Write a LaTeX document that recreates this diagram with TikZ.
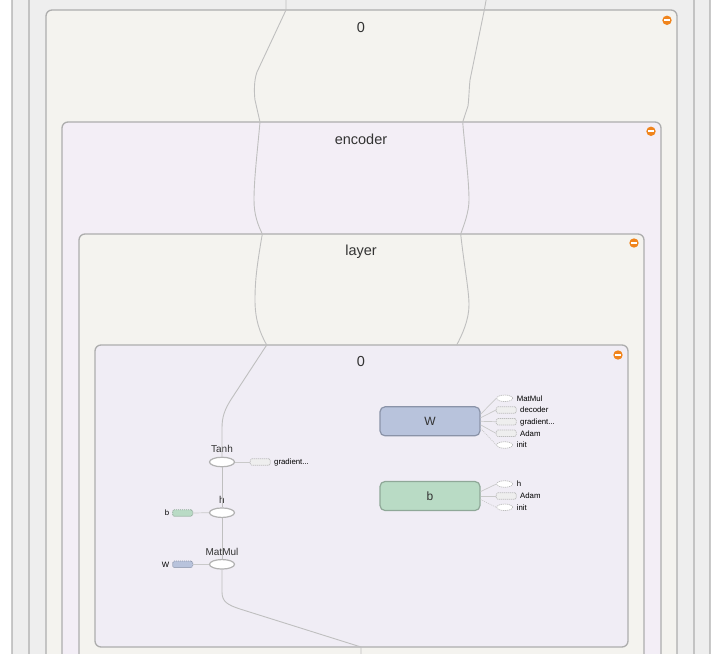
\documentclass[tikz,border=0pt]{standalone}
\usepackage{fontspec}
\setmainfont{Liberation Sans}
\usetikzlibrary{shapes.geometric}
\definecolor{grpgray}{HTML}{EEEEEE}
\definecolor{grpcream}{HTML}{F4F3EF}
\definecolor{grppink}{HTML}{F3EEF6}
\definecolor{grplav}{HTML}{F0EDF5}
\definecolor{grpline}{HTML}{ADADAD}
\definecolor{edgegray}{HTML}{BFBFBF}
\definecolor{sidegray}{HTML}{C9C9C9}
\definecolor{auxline}{HTML}{BDBDBD}
\definecolor{opline}{HTML}{B2B2B2}
\definecolor{wfill}{HTML}{B8C3DC}
\definecolor{wline}{HTML}{8A93A8}
\definecolor{bfill}{HTML}{B9DBC5}
\definecolor{bline}{HTML}{8FA898}
\definecolor{iconorange}{HTML}{F0841C}
\definecolor{titletext}{HTML}{333333}
\begin{document}
\begin{tikzpicture}[x=1pt,y=-1pt,
  grp/.style={draw=grpline,line width=1.3pt,rounded corners=6pt},
  grptitle/.style={anchor=base,text=titletext,font=\fontsize{14.5}{17}\selectfont},
  opnode/.style={ellipse,draw=opline,fill=white,line width=1.2pt,minimum width=25pt,minimum height=9.5pt,inner sep=0pt},
  oplabel/.style={anchor=base,text=titletext,font=\fontsize{10}{12}\selectfont},
  varnode/.style={rounded corners=5pt,line width=1.2pt,minimum width=100pt,minimum height=29pt,inner sep=0pt,text=titletext,font=\fontsize{12}{14}\selectfont},
  auxrect/.style={draw=auxline,fill=grpgray,dash pattern=on 1.2pt off 0.8pt,line width=0.7pt,rounded corners=1.5pt,minimum width=20pt,minimum height=6.5pt,inner sep=0pt},
  auxoval/.style={ellipse,draw=auxline,fill=white,dash pattern=on 1.2pt off 0.8pt,line width=0.7pt,minimum width=16pt,minimum height=6.5pt,inner sep=0pt},
  auxlabel/.style={anchor=west,inner sep=0pt,text height=5.6pt,text depth=0pt,font=\fontsize{7.8}{9}\selectfont},
  flow/.style={draw=edgegray,line width=0.9pt},
  sideflow/.style={draw=sidegray,line width=0.7pt},
]
\useasboundingbox (0,0) rectangle (724,654);
\clip (0,0) rectangle (724,654);
% nested groups
\draw[grp,fill=grpgray] (12,-30) rectangle (710,700);
\draw[grp,fill=grpgray] (29,-30) rectangle (694,700);
\draw[grp,fill=grpcream] (46,10) rectangle (677,700);
\draw[grp,fill=grppink] (62,122) rectangle (661,700);
\draw[grp,fill=grpcream] (79,234) rectangle (644,700);
\draw[grp,fill=grplav] (95,345) rectangle (628,647);
\node[grptitle] (title0) at (361,32.3) {0};
\node[grptitle] (titleenc) at (361,144) {encoder};
\node[grptitle] (titlelayer) at (361,255.7) {layer};
\node[grptitle] (titlein) at (361,366.7) {0};
\foreach \x/\y in {667/20.3,651/131.3,634/243,618/355} {
  \fill[iconorange] (\x,\y) circle (4.7pt);
  \fill[white] (\x-3.3,\y-0.9) rectangle (\x+3.3,\y+0.9);
}
%
\node[opnode] (tanh) at (222,462) {};
\node[oplabel] (tanhlbl) at (222,452) {Tanh};
\node[opnode] (h) at (222,512.7) {};
\node[oplabel] (hlbl) at (222,503.3) {h};
\node[opnode] (matmul) at (222,564.3) {};
\node[oplabel] (matmullbl) at (222,555.3) {MatMul};
\node[auxrect] (tgrad) at (260.3,462) {};
\node[auxlabel] (tgradlbl) at (274,462) {gradient...};
\node[auxrect,fill=bfill,draw=bline] (hb) at (182.7,513) {};
\node[auxlabel,anchor=east] (hblbl) at (169.5,513) {b};
\node[auxrect,fill=wfill,draw=wline] (mw) at (182.7,564.3) {};
\node[auxlabel,anchor=east] (mwlbl) at (169.5,564.3) {W};
%
\node[varnode,draw=wline,fill=wfill] (W) at (430,421.3) {W};
\node[varnode,draw=bline,fill=bfill] (b) at (430,496) {b};
\node[auxoval] (wmm) at (504.7,398.3) {};
\node[auxlabel] (wmmlbl) at (516.7,398.3) {MatMul};
\node[auxrect] (wdec) at (506.3,410) {};
\node[auxlabel] (wdeclbl) at (520,410) {decoder};
\node[auxrect] (wgrad) at (506.3,421.7) {};
\node[auxlabel] (wgradlbl) at (520,421.7) {gradient...};
\node[auxrect] (wadam) at (506.3,433.3) {};
\node[auxlabel] (wadamlbl) at (520,433.3) {Adam};
\node[auxoval] (winit) at (504.7,445) {};
\node[auxlabel] (winitlbl) at (516.7,445) {init};
\node[auxoval] (bh) at (504.7,484) {};
\node[auxlabel] (bhlbl) at (516.7,484) {h};
\node[auxrect] (badam) at (506.3,496) {};
\node[auxlabel] (badamlbl) at (520,496) {Adam};
\node[auxoval] (binit) at (504.7,507.3) {};
\node[auxlabel] (binitlbl) at (516.7,507.3) {init};
%
\coordinate (la) at (286,-5);
\coordinate (lb) at (286,10);
\coordinate (lc) at (260,122);
\coordinate (ld) at (262.3,234);
\coordinate (le) at (266.7,345);
\coordinate (ra) at (487,-5);
\coordinate (rb) at (484.3,10);
\coordinate (rc) at (462.7,122);
\coordinate (rd) at (460.7,234);
\coordinate (re) at (456.7,345);
\coordinate (bo) at (361,647);
\coordinate (bp) at (361,660);
\draw[flow] (la) -- (lb) -- (257,72) .. controls (254,80) and (254,92) .. (255,100) -- (lc)
  .. controls (257,155) and (254,180) .. (254,200) .. controls (254,215) and (258,225) .. (ld)
  .. controls (257,265) and (255,280) .. (255,300) .. controls (255,320) and (260,333) .. (le)
  -- (232,398) .. controls (224,410) and (222,418) .. (222,428) -- (tanh.north);
\draw[flow] (ra) -- (rb) -- (470,80) .. controls (469,90) and (469,98) .. (468,106) -- (rc)
  .. controls (465,150) and (469,180) .. (469,200) .. controls (469,212) and (464,225) .. (rd)
  .. controls (464,265) and (469,290) .. (469,305) .. controls (469,320) and (462,335) .. (re);
\draw[flow] (tanh.south) -- (h.north);
\draw[flow] (h.south) -- (matmul.north);
\draw[flow] (matmul.south) -- (222,592) .. controls (222,602) and (228,605) .. (240,609) -- (bo) -- (bp);
\draw[sideflow] (tgrad.west) -- (tanh.east);
\draw[sideflow] (hb.east) -- (h.west);
\draw[sideflow] (mw.east) -- (matmul.west);
\draw[sideflow] (W.8) -- (wmm.west);
\draw[sideflow] (W.4) -- (wdec.west);
\draw[sideflow] (W.0) -- (wgrad.west);
\draw[sideflow] (W.-4) -- (wadam.west);
\draw[sideflow,dash pattern=on 1pt off 1pt] (W.-8) -- (winit.west);
\draw[sideflow] (b.5) -- (bh.west);
\draw[sideflow] (b.0) -- (badam.west);
\draw[sideflow,dash pattern=on 1pt off 1pt] (b.-4) -- (binit.west);
\end{tikzpicture}
\end{document}
